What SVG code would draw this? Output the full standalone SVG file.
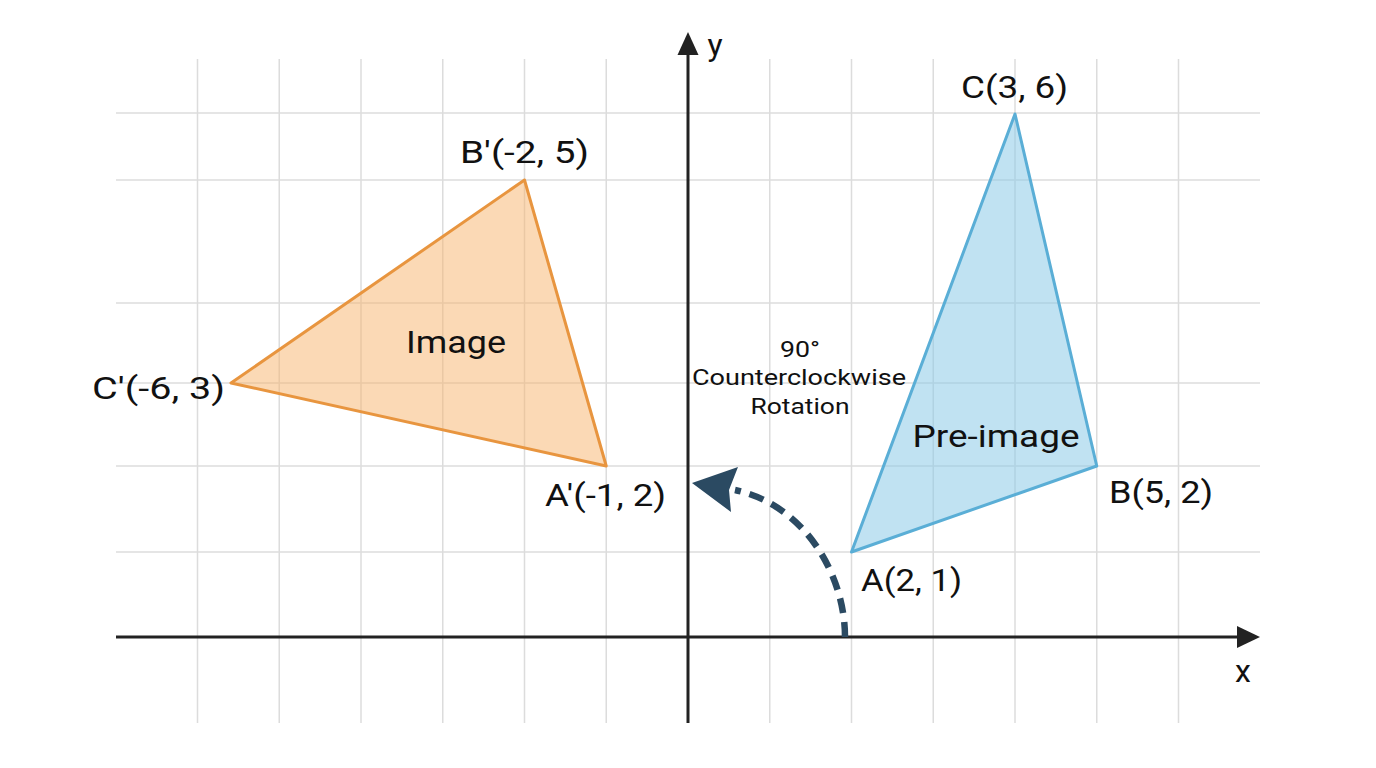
<svg xmlns="http://www.w3.org/2000/svg" width="1376" height="768" viewBox="0 0 1376 768">
<defs>
<style>
.grid line{stroke:#dcdcdc;stroke-width:1.5}
.axis{stroke:#222;stroke-width:3;fill:none}
.lbl{font-family:Roboto,"Liberation Sans",Arial,sans-serif;font-size:32px;fill:#111}
.small{font-family:Roboto,"Liberation Sans",Arial,sans-serif;font-size:22px;fill:#111;text-anchor:middle}
.img{fill:#f7b36b;fill-opacity:0.5;stroke:#e8953f;stroke-width:3;stroke-linejoin:round}
.pre{fill:#8ccbe8;fill-opacity:0.55;stroke:#5aaed6;stroke-width:3;stroke-linejoin:round}
</style>
</defs>
<rect width="1376" height="768" fill="#ffffff"/>
<g id="grid" class="grid">
<line x1="197.5" y1="59" x2="197.5" y2="723"/>
<line x1="279.25" y1="59" x2="279.25" y2="723"/>
<line x1="361" y1="59" x2="361" y2="723"/>
<line x1="442.75" y1="59" x2="442.75" y2="723"/>
<line x1="524.5" y1="59" x2="524.5" y2="723"/>
<line x1="606.25" y1="59" x2="606.25" y2="723"/>
<line x1="769.75" y1="59" x2="769.75" y2="723"/>
<line x1="851.5" y1="59" x2="851.5" y2="723"/>
<line x1="933.25" y1="59" x2="933.25" y2="723"/>
<line x1="1015" y1="59" x2="1015" y2="723"/>
<line x1="1096.75" y1="59" x2="1096.75" y2="723"/>
<line x1="1178.5" y1="59" x2="1178.5" y2="723"/>
<line x1="116" y1="113" x2="1260" y2="113"/>
<line x1="116" y1="180" x2="1260" y2="180"/>
<line x1="116" y1="303" x2="1260" y2="303"/>
<line x1="116" y1="383" x2="1260" y2="383"/>
<line x1="116" y1="466" x2="1260" y2="466"/>
<line x1="116" y1="552" x2="1260" y2="552"/>
</g>
<g id="axes">
<line class="axis" x1="116" y1="637" x2="1240" y2="637"/>
<polygon points="1260,637 1237,626 1237,648" fill="#222"/>
<line class="axis" x1="688" y1="723" x2="688" y2="52"/>
<polygon points="688,32 677.5,55 698.5,55" fill="#222"/>
<text class="lbl" x="1243" y="682" text-anchor="middle">x</text>
<text class="lbl" x="715" y="56" text-anchor="middle">y</text>
</g>
<g id="image">
<polygon class="img" points="606.25,466 524.5,180 231,383"/>
<text class="lbl" x="456" y="353" text-anchor="middle" textLength="100" lengthAdjust="spacingAndGlyphs">Image</text>
</g>
<g id="pre-image">
<polygon class="pre" points="851.5,552 1096.75,466 1015,114"/>
<text class="lbl" x="996" y="447" text-anchor="middle" textLength="167" lengthAdjust="spacingAndGlyphs">Pre-image</text>
</g>
<g id="labels">
<text class="lbl" x="961" y="98" textLength="107" lengthAdjust="spacingAndGlyphs">C(3, 6)</text>
<text class="lbl" x="460" y="163" textLength="129" lengthAdjust="spacingAndGlyphs">B′(-2, 5)</text>
<text class="lbl" x="92" y="399" textLength="133" lengthAdjust="spacingAndGlyphs">C′(-6, 3)</text>
<text class="lbl" x="545" y="506" textLength="121" lengthAdjust="spacingAndGlyphs">A′(-1, 2)</text>
<text class="lbl" x="1109" y="503" textLength="104" lengthAdjust="spacingAndGlyphs">B(5, 2)</text>
<text class="lbl" x="861" y="591" textLength="101" lengthAdjust="spacingAndGlyphs">A(2, 1)</text>
</g>
<g id="rotation-label">
<text class="small" x="800" y="357" textLength="40" lengthAdjust="spacingAndGlyphs">90°</text>
<text class="small" x="799" y="385" textLength="214" lengthAdjust="spacingAndGlyphs">Counterclockwise</text>
<text class="small" x="800" y="414" textLength="99" lengthAdjust="spacingAndGlyphs">Rotation</text>
</g>
<g id="connectors">
<path d="M845,637 C845,575 805,505 735,490" fill="none" stroke="#2b4a62" stroke-width="6.5" stroke-dasharray="15 9"/>
<polygon points="692,483 738,467 729,490 731,512" fill="#2b4a62"/>
</g>
</svg>
